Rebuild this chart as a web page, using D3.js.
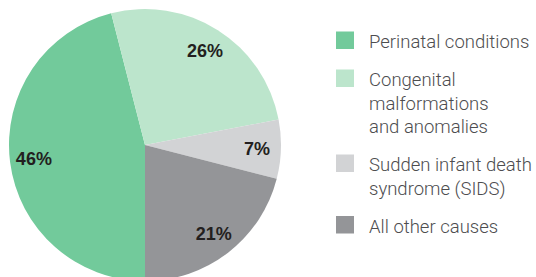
<!DOCTYPE html>
<html>
  <head>
    <title>Pie Chart</title>
    <meta charset="utf-8" />
    <style>
      body { margin: 0; background: #fff; }
    </style>
  </head>
  <body>
    <div id="pie"></div>
    <script src="https://d3js.org/d3.v7.min.js"></script>
    <script type="text/javascript">
        const causes = [
            ["Perinatal conditions"],
            ["Congenital", "malformations", "and anomalies"],
            ["Sudden infant death", "syndrome (SIDS)"],
            ["All other causes"]
        ];
        const shares = [46, 26, 7, 21];
        const colors = ["#72ca9b", "#bce5cc", "#d2d3d5", "#949598"];

        const width = 536;
        const height = 277;
        const radius = 136;
        const cx = 145, cy = 145;

        const svg = d3.select("#pie")
            .append("svg")
            .attr("width", width)
            .attr("height", height);

        const pie = d3.pie()
            .sort(null)
            .startAngle(Math.PI)
            .endAngle(3 * Math.PI)
            .value(d => d);

        const arc = d3.arc().innerRadius(0).outerRadius(radius);
        const labelArc = d3.arc().innerRadius(112).outerRadius(112);

        const g = svg.append("g")
            .attr("transform", `translate(${cx},${cy})`);

        const arcs = pie(shares);

        g.selectAll("path")
            .data(arcs)
            .enter().append("path")
            .attr("d", arc)
            .attr("fill", (d, i) => colors[i]);

        g.selectAll("text")
            .data(arcs)
            .enter().append("text")
            .attr("transform", d => `translate(${labelArc.centroid(d)})`)
            .attr("text-anchor", "middle")
            .attr("dy", "0.35em")
            .attr("font-family", "Liberation Sans, Arial, sans-serif")
            .attr("font-weight", "bold")
            .attr("font-size", 18)
            .attr("fill", "#231f20")
            .text(d => d.data + "%");

        // legend
        const lineH = 23.5;
        const itemGap = 38;
        let baseline = 48;
        const legend = svg.append("g");
        causes.forEach((lines, i) => {
            legend.append("rect")
                .attr("x", 336)
                .attr("y", baseline - 16.5)
                .attr("width", 18)
                .attr("height", 17.5)
                .attr("fill", colors[i]);
            const t = legend.append("text")
                .attr("font-family", "Roboto, sans-serif")
                .attr("font-weight", 300)
                .attr("font-size", 18.5)
                .attr("fill", "#4d4d4f");
            lines.forEach((line, j) => {
                t.append("tspan")
                    .attr("x", 369)
                    .attr("y", baseline + j * lineH)
                    .text(line);
            });
            baseline += (lines.length - 1) * lineH + itemGap;
        });
    </script>
  </body>
</html>
